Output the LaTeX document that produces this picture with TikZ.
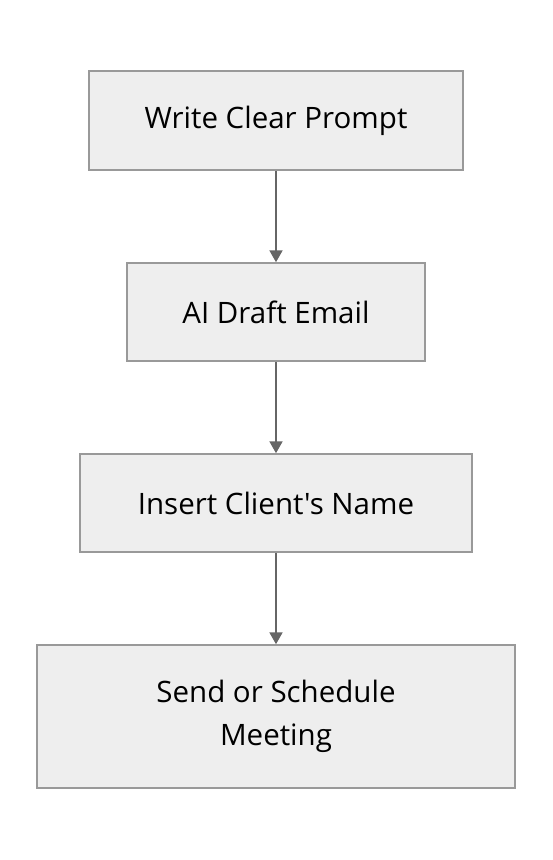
\documentclass[tikz,border=0pt]{standalone}
\usepackage{fontspec}
\setmainfont{Open Sans}[Ligatures=TeXOff]
\usetikzlibrary{arrows.meta}
\definecolor{boxfill}{HTML}{EEEEEE}
\definecolor{boxdraw}{HTML}{999999}
\definecolor{arrowcol}{HTML}{666666}
\tikzset{
  stepbox/.style={draw=boxdraw, fill=boxfill, line width=1.5pt, rectangle, inner sep=0pt,
    font=\fontsize{29.5}{43}\selectfont, align=center, text=black},
  flow/.style={draw=arrowcol, line width=2pt, -{Triangle[width=13pt,length=12pt]}}
}
\begin{document}
\begin{tikzpicture}[x=1pt,y=-1pt]
\useasboundingbox (0,0) rectangle (552,860);
\fill[white] (0,0) rectangle (552,860);
\node[stepbox, minimum width=374pt, minimum height=99pt] (a) at (276,120.5) {Write Clear Prompt};
\node[stepbox, minimum width=298pt, minimum height=98pt] (b) at (276,312) {AI Draft Email};
\node[stepbox, minimum width=392pt, minimum height=98pt] (c) at (276,503) {Insert Client's Name};
\node[stepbox, minimum width=478pt, minimum height=143pt] (d) at (276,716.5) {Send or Schedule\\Meeting};
\draw[flow] (a) -- (b);
\draw[flow] (b) -- (c);
\draw[flow] (c) -- (d);
\end{tikzpicture}
\end{document}
